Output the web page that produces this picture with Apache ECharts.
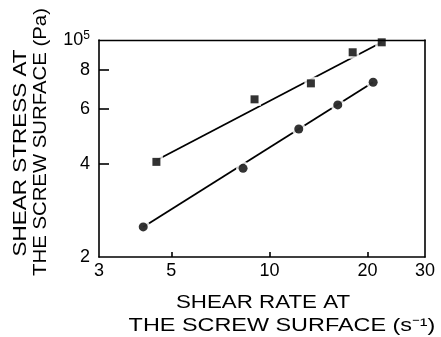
<!DOCTYPE html>
<html>
<head>
<meta charset="utf-8">
<script src="https://cdn.jsdelivr.net/npm/echarts@6/dist/echarts.min.js"></script>
<style>html,body{margin:0;padding:0;background:#fff}#c{width:441px;height:337px}</style>
</head>
<body>
<div id="c"></div>
<script>
// Shear rate (s^-1) and shear stress (Pa)
var squareX = [4.5, 9.0, 13.4, 18.0, 22.1];
var squareY = [40500, 64400, 72500, 91300, 98300];
var circleX = [4.1, 8.3, 12.3, 16.2, 20.8];
var circleY = [25000, 38600, 51700, 61800, 73100];
var upperFitX = [4.5, 22.1];
var upperFitY = [41000, 98300];
var lowerFitX = [4.1, 20.8];
var lowerFitY = [25000, 73100];
var xTickLabels = [3, 5, 10, 20, 30];
var xTickMarks = [5, 10, 20];
var yTickLabels = [20000, 40000, 60000, 80000, 100000];
var yTickMarks = [40000, 60000, 80000];

function pairs(xs, ys) { return xs.map(function (x, i) { return [x, ys[i]]; }); }

var FONT = '"Liberation Sans", Arial, Helvetica, sans-serif';
var AX = { color: '#000', width: 1.6 };
var chart = echarts.init(document.getElementById('c'));
chart.setOption({
  animation: false,
  backgroundColor: '#fff',
  grid: { left: 99, right: 16, top: 40, bottom: 80, show: false, containLabel: false },
  xAxis: [{
    type: 'log', logBase: 10, min: 3, max: 30, z: 10,
    axisLine: { show: true, lineStyle: AX },
    axisTick: { show: true, inside: true, length: 5, customValues: xTickMarks, lineStyle: AX },
    axisLabel: { customValues: xTickLabels, color: '#000', fontSize: 18, fontFamily: FONT, margin: 5, showMinLabel: true, showMaxLabel: true },
    splitLine: { show: false }, minorTick: { show: false }
  }, {
    type: 'log', logBase: 10, min: 3, max: 30, position: 'top', z: 10,
    axisLine: { show: true, lineStyle: { color: '#000', width: 1.3 } },
    axisTick: { show: false }, axisLabel: { show: false }, splitLine: { show: false }
  }],
  yAxis: [{
    type: 'log', logBase: 10, min: 20000, max: 100000, z: 10,
    axisLine: { show: true, lineStyle: AX },
    axisTick: { show: true, inside: true, length: 10, customValues: yTickMarks, lineStyle: AX },
    axisLabel: {
      customValues: yTickLabels, color: '#000', fontSize: 18, fontFamily: FONT, margin: 9,
      showMinLabel: true, showMaxLabel: true,
      formatter: function (v) { return v >= 99999 ? '{a|10}{b|5}' : '{a|' + Math.round(v / 10000) + '}'; },
      rich: {
        a: { fontSize: 18, fontFamily: FONT, color: '#000', lineHeight: 20 },
        b: { fontSize: 12, fontFamily: FONT, color: '#000', lineHeight: 12, verticalAlign: 'top' }
      }
    },
    splitLine: { show: false }, minorTick: { show: false }
  }, {
    type: 'log', logBase: 10, min: 20000, max: 100000, position: 'right', z: 10,
    axisLine: { show: true, lineStyle: AX },
    axisTick: { show: false }, axisLabel: { show: false }, splitLine: { show: false }
  }],
  graphic: [
    { type: 'text', x: 263, y: 303.5, scaleX: 1.24, style: { text: 'SHEAR RATE AT', font: '18px ' + FONT, fill: '#000', textAlign: 'center', textVerticalAlign: 'middle' } },
    { type: 'text', x: 282, y: 326.5, scaleX: 1.3, style: { text: 'THE SCREW SURFACE (s⁻¹)', font: '18px ' + FONT, fill: '#000', textAlign: 'center', textVerticalAlign: 'middle' } },
    { type: 'text', x: 21, y: 153, rotation: Math.PI / 2, scaleX: 1.25, style: { text: 'SHEAR STRESS AT', font: '18px ' + FONT, fill: '#000', textAlign: 'center', textVerticalAlign: 'middle' } },
    { type: 'text', x: 41, y: 142, rotation: Math.PI / 2, scaleX: 1.13, style: { text: 'THE SCREW SURFACE (Pa)', font: '18px ' + FONT, fill: '#000', textAlign: 'center', textVerticalAlign: 'middle' } }
  ],
  series: [
    { type: 'line', data: pairs(upperFitX, upperFitY), showSymbol: false, symbol: 'none', lineStyle: { color: '#000', width: 1.8 }, z: 1 },
    { type: 'line', data: pairs(lowerFitX, lowerFitY), showSymbol: false, symbol: 'none', lineStyle: { color: '#000', width: 1.8 }, z: 1 },
    { type: 'scatter', data: pairs(squareX, squareY), symbol: 'rect', symbolSize: 13, itemStyle: { color: '#fff' }, z: 2, silent: true },
    { type: 'scatter', data: pairs(circleX, circleY), symbol: 'circle', symbolSize: 14, itemStyle: { color: '#fff' }, z: 2, silent: true },
    { type: 'scatter', data: pairs(squareX, squareY), symbol: 'rect', symbolSize: 8, itemStyle: { color: '#000' }, z: 3 },
    { type: 'scatter', data: pairs(circleX, circleY), symbol: 'circle', symbolSize: 9, itemStyle: { color: '#000' }, z: 3 }
  ]
});
</script>
</body>
</html>
